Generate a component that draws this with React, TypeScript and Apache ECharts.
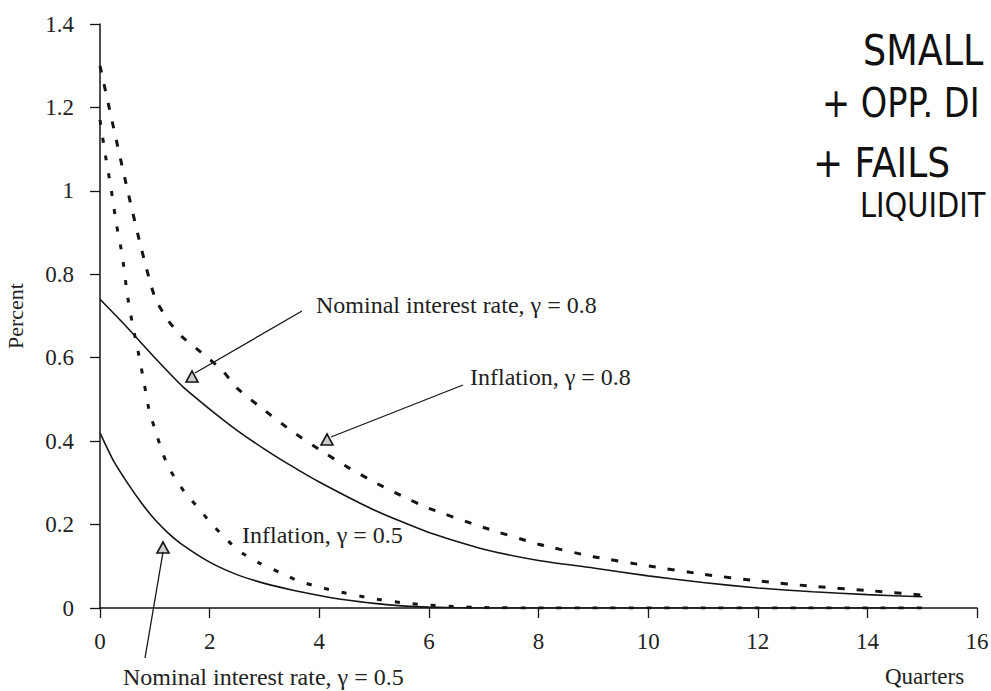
import React, { useEffect, useRef } from "react";
import * as echarts from "echarts";

// ---- Data ----
const inflation08X = [0, 0.25, 0.5, 0.75, 1, 1.25, 1.5, 1.75, 2, 2.25, 2.5, 3, 3.5, 4, 4.5, 5, 5.5, 6, 7, 8, 9, 10, 11, 12, 13, 14, 15];
const inflation08 = [1.3, 1.15, 1.003, 0.864, 0.745, 0.688, 0.65, 0.623, 0.596, 0.567, 0.527, 0.474, 0.424, 0.38, 0.339, 0.302, 0.269, 0.239, 0.193, 0.153, 0.123, 0.101, 0.081, 0.065, 0.052, 0.042, 0.031];

const nominal08X = [0, 0.5, 1, 1.5, 2, 2.5, 3, 3.5, 4, 5, 6, 7, 8, 9, 10, 11, 12, 13, 14, 15];
const nominal08 = [0.74, 0.672, 0.6, 0.532, 0.477, 0.426, 0.381, 0.34, 0.302, 0.235, 0.181, 0.141, 0.114, 0.096, 0.077, 0.061, 0.048, 0.039, 0.032, 0.027];

const inflation05X = [0, 0.1, 0.2, 0.3, 0.4, 0.5, 0.6, 0.7, 0.8, 0.9, 1, 1.13, 1.25, 1.4, 1.56, 1.78, 2, 2.2, 2.4, 2.6, 2.9, 3.3, 3.6, 4, 4.4, 5, 5.5, 6, 6.5, 7, 8, 9, 10, 11, 12, 13, 14, 15];
const inflation05 = [1.17, 1.084, 1.007, 0.92, 0.85, 0.75, 0.675, 0.612, 0.543, 0.471, 0.43, 0.376, 0.338, 0.305, 0.275, 0.242, 0.207, 0.179, 0.153, 0.131, 0.108, 0.084, 0.066, 0.05, 0.038, 0.022, 0.013, 0.007, 0.003, 0.001, 0, 0, 0, 0, 0, 0, 0, 0];

const nominal05X = [0, 0.25, 0.5, 0.75, 1, 1.25, 1.5, 2, 2.5, 3, 3.5, 4, 4.5, 5, 5.5, 6, 7, 8, 9, 10, 11, 12, 13, 14, 15];
const nominal05 = [0.42, 0.352, 0.3, 0.253, 0.212, 0.179, 0.152, 0.11, 0.08, 0.059, 0.043, 0.03, 0.019, 0.011, 0.005, 0.002, 0, 0, 0, 0, 0, 0, 0, 0, 0];

const seriesNames = [
  "Inflation, γ = 0.8",
  "Nominal interest rate, γ = 0.8",
  "Inflation, γ = 0.5",
  "Nominal interest rate, γ = 0.5",
];

const handNotes = ["SMALL", "+ OPP. DI", "+ FAILS", "LIQUIDIT"];

const pairs = (xs: number[], ys: number[]) => xs.map((x, i) => [x, ys[i]]);

export default function App() {
  const ref = useRef<HTMLDivElement>(null);

  useEffect(() => {
    if (!ref.current) return;
    const chart = echarts.init(ref.current, null, { renderer: "svg" });
    const serif = "'Liberation Serif', 'DejaVu Serif', serif";
    const hand = "'DejaVu Sans', 'Liberation Sans', sans-serif";
    const ink = "#151515";

    const tri = (cx: number, cy: number) => ({
      type: "polygon",
      shape: { points: [[cx - 6, cy + 5], [cx + 6, cy + 5], [cx, cy - 6]] },
      style: { fill: "rgba(0,0,0,0.2)", stroke: ink, lineWidth: 1.6 },
      z: 10,
    });
    const arrow = (x1: number, y1: number, x2: number, y2: number) => ({
      type: "line",
      shape: { x1, y1, x2, y2 },
      style: { stroke: ink, lineWidth: 1.3 },
      z: 10,
    });
    const label = (text: string, x: number, y: number) => ({
      type: "text",
      x,
      y,
      style: { text, fontFamily: serif, fontSize: 24, fill: "#222", align: "left", verticalAlign: "middle" },
      z: 10,
    });
    const handText = (text: string, x: number, y: number, size: number, sx: number) => ({
      type: "text",
      x,
      y,
      scaleX: sx,
      style: { text, fontFamily: hand, fontSize: size, fill: "#111", align: "left", verticalAlign: "middle" },
      z: 10,
    });

    const dashed = (name: string, data: number[][], dash: number[]) => ({
      name,
      type: "line",
      data,
      showSymbol: false,
      smooth: 0.2,
      lineStyle: { color: ink, width: 3, type: dash },
    });
    const solid = (name: string, data: number[][]) => ({
      name,
      type: "line",
      data,
      showSymbol: false,
      smooth: 0.2,
      lineStyle: { color: ink, width: 1.6, type: "solid" },
    });

    chart.setOption({
      animation: false,
      backgroundColor: "#ffffff",
      grid: { left: 100, top: 24, width: 877, height: 584, containLabel: false, outerBoundsMode: "none" },
      xAxis: {
        type: "value",
        min: 0,
        max: 16,
        interval: 2,
        axisLine: { lineStyle: { color: ink, width: 1.5 } },
        axisTick: { length: 10, lineStyle: { color: ink, width: 1.3 } },
        axisLabel: { fontFamily: serif, fontSize: 23, color: "#222", margin: 22 },
        splitLine: { show: false },
      },
      yAxis: {
        type: "value",
        min: 0,
        max: 1.4,
        interval: 0.2,
        name: "Percent",
        nameLocation: "middle",
        nameGap: 74,
        nameTextStyle: { fontFamily: serif, fontSize: 22, color: "#222" },
        axisLine: { show: true, lineStyle: { color: ink, width: 1.5 } },
        axisTick: { show: true, length: 10, lineStyle: { color: ink, width: 1.3 } },
        axisLabel: { fontFamily: serif, fontSize: 23, color: "#222", margin: 26 },
        splitLine: { show: false },
      },
      series: [
        dashed(seriesNames[0], pairs(inflation08X, inflation08), [7, 12]),
        solid(seriesNames[1], pairs(nominal08X, nominal08)),
        dashed(seriesNames[2], pairs(inflation05X, inflation05), [5, 13]),
        solid(seriesNames[3], pairs(nominal05X, nominal05)),
      ],
      graphic: [
        label(seriesNames[1], 316, 305),
        arrow(302, 311, 195, 373),
        tri(192, 377),
        label(seriesNames[0], 470, 377),
        arrow(463, 385, 331, 437),
        tri(327, 440),
        label(seriesNames[2], 242, 535),
        label(seriesNames[3], 123, 677),
        arrow(145, 658, 163, 552),
        tri(163, 548),
        {
          type: "text",
          x: 885,
          y: 676,
          style: { text: "Quarters", fontFamily: serif, fontSize: 23, fill: "#222", align: "left", verticalAlign: "middle" },
        },
        handText(handNotes[0], 863, 50, 42, 0.87),
        handText(handNotes[1], 822, 103, 40, 0.84),
        handText(handNotes[2], 813, 163, 40, 0.9),
        handText(handNotes[3], 860, 205, 34, 0.85),
      ],
    });

    return () => chart.dispose();
  }, []);

  return (
    <div
      ref={ref}
      style={{ position: "fixed", left: 0, top: 0, width: 991, height: 691, background: "#fff" }}
    />
  );
}
